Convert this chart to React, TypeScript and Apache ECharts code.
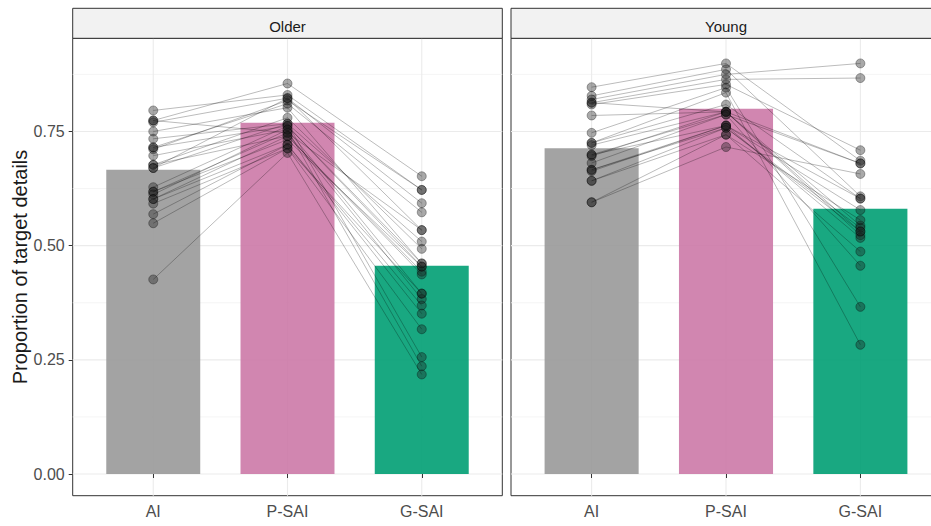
import React, { useEffect, useRef } from "react";
import * as echarts from "echarts";

// ---- data ----
const categories = ["AI", "P-SAI", "G-SAI"];
const facets = ["Older", "Young"];
const barColors = ["rgba(153,153,153,0.9)", "rgba(204,121,167,0.9)", "rgba(0,158,115,0.9)"];

const olderMeans = [0.666, 0.769, 0.456];
const youngMeans = [0.713, 0.8, 0.581];

const olderAI = [0.796, 0.774, 0.774, 0.77, 0.75, 0.734, 0.715, 0.715, 0.711, 0.697, 0.677, 0.677, 0.67, 0.67, 0.628, 0.618, 0.618, 0.612, 0.602, 0.602, 0.592, 0.569, 0.549, 0.426];
const olderPSAI = [0.83, 0.855, 0.747, 0.823, 0.802, 0.767, 0.811, 0.762, 0.818, 0.754, 0.78, 0.74, 0.823, 0.767, 0.762, 0.747, 0.732, 0.754, 0.74, 0.721, 0.713, 0.721, 0.713, 0.703];
const olderGSAI = [0.622, 0.652, 0.534, 0.593, 0.461, 0.509, 0.573, 0.454, 0.622, 0.395, 0.493, 0.443, 0.534, 0.256, 0.461, 0.383, 0.454, 0.236, 0.437, 0.369, 0.395, 0.351, 0.317, 0.218];

const youngAI = [0.847, 0.828, 0.82, 0.813, 0.813, 0.809, 0.785, 0.747, 0.725, 0.725, 0.72, 0.699, 0.699, 0.696, 0.681, 0.666, 0.666, 0.663, 0.642, 0.642, 0.595, 0.595];
const youngPSAI = [0.899, 0.886, 0.875, 0.864, 0.793, 0.853, 0.793, 0.846, 0.835, 0.809, 0.793, 0.787, 0.763, 0.793, 0.787, 0.763, 0.758, 0.763, 0.758, 0.743, 0.743, 0.716];
const youngGSAI = [0.686, 0.608, 0.899, 0.867, 0.531, 0.709, 0.68, 0.366, 0.283, 0.603, 0.544, 0.68, 0.578, 0.523, 0.456, 0.603, 0.539, 0.517, 0.531, 0.487, 0.556, 0.657];

const yTicks = [0, 0.25, 0.5, 0.75];
const yMinorTicks = [0.125, 0.375, 0.625, 0.875];
const xTicks = [1, 2, 3];

const Y_MIN = -0.0475;
const Y_MAX = 0.954;
const X_MIN = 0.4;
const X_MAX = 3.6;

const FONT = "'Liberation Sans', Arial, sans-serif";

export default function App() {
  const ref = useRef<HTMLDivElement>(null);

  useEffect(() => {
    if (!ref.current) return;
    const chart = echarts.init(ref.current, undefined, { renderer: "svg" });

    const panels = [
      { name: facets[0], means: olderMeans, ai: olderAI, p: olderPSAI, g: olderGSAI, left: 72.7, width: 429.6 },
      { name: facets[1], means: youngMeans, ai: youngAI, p: youngPSAI, g: youngGSAI, left: 511, width: 430 },
    ];
    const TOP = 38.3;
    const HEIGHT = 457.4;

    const grids: any[] = [];
    const xAxes: any[] = [];
    const yAxes: any[] = [];
    const series: any[] = [];
    const graphics: any[] = [];

    panels.forEach((pn, i) => {
      grids.push({
        left: pn.left,
        top: TOP,
        width: pn.width,
        height: HEIGHT,
        show: true,
        borderColor: "#333333",
        borderWidth: 1,
        backgroundColor: "transparent",
        containLabel: false,
        outerBoundsMode: "none",
      });
      xAxes.push({
        type: "value",
        gridIndex: i,
        min: X_MIN,
        max: X_MAX,
        axisLine: { show: false },
        splitLine: { show: false },
        axisTick: { show: true, length: 4, customValues: xTicks, lineStyle: { color: "#333333" } },
        axisLabel: {
          show: true,
          customValues: xTicks,
          margin: 8,
          formatter: (v: number) => categories[Math.round(v) - 1] ?? "",
          color: "#4D4D4D",
          fontSize: 16,
          fontFamily: FONT,
        },
      });
      yAxes.push({
        type: "value",
        gridIndex: i,
        min: Y_MIN,
        max: Y_MAX,
        axisLine: { show: false },
        splitLine: { show: false },
        axisTick: { show: i === 0, length: 4, customValues: yTicks, lineStyle: { color: "#333333" } },
        axisLabel: {
          show: i === 0,
          customValues: yTicks,
          margin: 8,
          formatter: (v: number) => v.toFixed(2),
          color: "#4D4D4D",
          fontSize: 16,
          fontFamily: FONT,
        },
        name: i === 0 ? "Proportion of target details" : "",
        nameLocation: "middle",
        nameGap: 42,
        nameTextStyle: { fontSize: 20, color: "#1A1A1A", fontFamily: FONT },
      });

      // gridlines
      const gridData: any[] = [];
      yMinorTicks.forEach((v) => gridData.push([v, 0]));
      yTicks.forEach((v) => gridData.push([v, 1]));
      xTicks.forEach((v) => gridData.push([v, 2]));
      series.push({
        type: "custom",
        xAxisIndex: i,
        yAxisIndex: i,
        z: 0,
        silent: true,
        data: gridData,
        renderItem: (params: any, api: any) => {
          const v = api.value(0);
          const kind = api.value(1);
          let a, b;
          if (kind === 2) {
            a = api.coord([v, Y_MIN]);
            b = api.coord([v, Y_MAX]);
          } else {
            a = api.coord([X_MIN, v]);
            b = api.coord([X_MAX, v]);
          }
          return {
            type: "line",
            shape: { x1: a[0], y1: a[1], x2: b[0], y2: b[1] },
            style: { stroke: kind === 0 ? "#F3F3F3" : "#EBEBEB", lineWidth: kind === 0 ? 0.8 : 1.1 },
          };
        },
      });

      // bars (width 0.7 category units)
      series.push({
        type: "custom",
        xAxisIndex: i,
        yAxisIndex: i,
        z: 1,
        data: pn.means.map((m, k) => [k + 1, m]),
        renderItem: (params: any, api: any) => {
          const x = api.value(0);
          const y = api.value(1);
          const p0 = api.coord([x - 0.35, y]);
          const p1 = api.coord([x + 0.35, 0]);
          return {
            type: "rect",
            shape: { x: p0[0], y: p0[1], width: p1[0] - p0[0], height: p1[1] - p0[1] },
            style: { fill: barColors[params.dataIndex] },
          };
        },
      });

      // subject lines and points
      pn.ai.forEach((_, s) => {
        series.push({
          type: "line",
          xAxisIndex: i,
          yAxisIndex: i,
          z: 2,
          silent: true,
          data: [
            [1, pn.ai[s]],
            [2, pn.p[s]],
            [3, pn.g[s]],
          ],
          symbol: "circle",
          symbolSize: 9,
          showSymbol: true,
          lineStyle: { color: "rgba(0,0,0,0.45)", width: 0.6 },
          itemStyle: { color: "rgba(30,30,30,0.38)", borderColor: "rgba(0,0,0,0.4)", borderWidth: 0.8 },
        });
      });

      // facet strip
      graphics.push({
        type: "rect",
        shape: { x: pn.left, y: 8.3, width: pn.width, height: TOP - 8.3 },
        style: { fill: "#F2F2F2", stroke: "#333333", lineWidth: 1 },
        z: 10,
      });
      graphics.push({
        type: "text",
        x: pn.left + pn.width / 2,
        y: 26,
        style: {
          text: pn.name,
          fill: "#1A1A1A",
          fontSize: 15,
          fontFamily: FONT,
          align: "center",
          verticalAlign: "middle",
        },
        z: 11,
      });
    });

    chart.setOption({
      animation: false,
      backgroundColor: "#ffffff",
      grid: grids,
      xAxis: xAxes,
      yAxis: yAxes,
      series,
      graphic: graphics,
    });

    return () => {
      chart.dispose();
    };
  }, []);

  return (
    <div
      ref={ref}
      style={{ position: "absolute", left: 0, top: 0, width: 931, height: 526, background: "#fff" }}
    />
  );
}
